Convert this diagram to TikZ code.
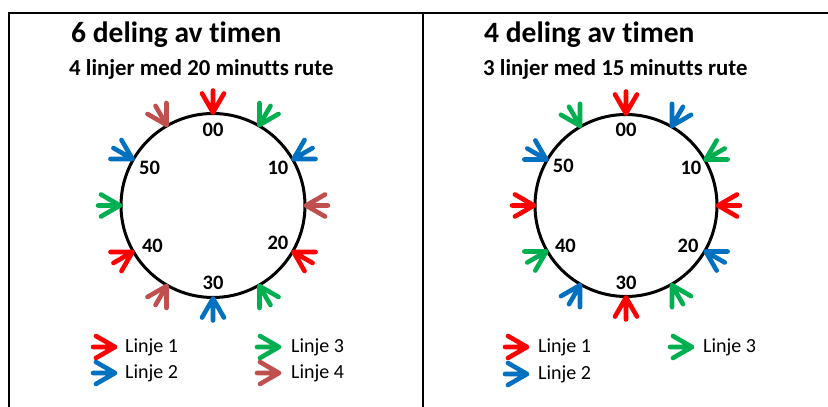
\documentclass[tikz,border=0pt]{standalone}
\usepackage{fontspec}
\setmainfont{Carlito}[Ligatures=NoCommon]
\definecolor{l1}{HTML}{FF0000}
\definecolor{l2}{HTML}{0070C0}
\definecolor{l3}{HTML}{00B050}
\definecolor{l4}{HTML}{C0504D}
\tikzset{
  pics/rutepil/.style={code={\draw[line width=4.6pt,line cap=round,line join=round,#1] (22,0) -- (0,0) (30:22) -- (0,0) -- (-30:22);}},
  ramme/.style={line width=2pt},
  ring/.style={line width=3pt},
  tittel/.style={anchor=west,inner sep=0pt,font=\fontsize{29.5}{31}\selectfont\bfseries},
  undertittel/.style={anchor=west,inner sep=0pt,font=\fontsize{22.8}{24}\selectfont\bfseries},
  tall/.style={inner sep=0pt,font=\fontsize{20.5}{22}\selectfont\bfseries},
  forklaring/.style={anchor=west,inner sep=0pt,font=\fontsize{20}{22}\selectfont},
}
\begin{document}
\begin{tikzpicture}[x=1pt,y=1pt]
\useasboundingbox (0,0) rectangle (828,407);
% frames
\draw[ramme] (9,0) -- (9,394) -- (828,394);
\draw[ramme] (423,0) -- (423,394);
% ---------- left panel ----------
\node[tittel] (t1) at (71,372) {6 deling av timen};
\node[undertittel] (s1) at (69,338) {4 linjer med 20 minutts rute};
\coordinate (cL) at (213,201.5);
\draw[ring] (cL) circle (92);
\foreach \k/\col in {0/l1,1/l3,2/l2,3/l4,4/l1,5/l3,6/l2,7/l4,8/l1,9/l3,10/l2,11/l4}{
  \pic[rotate={90-30*\k}] at ([shift={({90-30*\k}:93)}]cL) {rutepil=\col};
}
\node[tall] (a00) at ([shift={(90:76)}]cL) {00};
\node[tall] (a10) at ([shift={(30:75)}]cL) {10};
\node[tall] (a20) at ([shift={(-30:75)}]cL) {20};
\node[tall] (a30) at ([shift={(-90:77)}]cL) {30};
\node[tall] (a40) at ([shift={(-146:73)}]cL) {40};
\node[tall] (a50) at ([shift={(149:74)}]cL) {50};
% legend left
\pic[rotate=180] at (115,60) {rutepil=l1};
\pic[rotate=180] at (115,34) {rutepil=l2};
\pic[rotate=180] at (279,60) {rutepil=l3};
\pic[rotate=180] at (279,34) {rutepil=l4};
\node[forklaring] (f1) at (125,60) {Linje 1};
\node[forklaring] (f2) at (125,34) {Linje 2};
\node[forklaring] (f3) at (291,60) {Linje 3};
\node[forklaring] (f4) at (291,34) {Linje 4};
% ---------- right panel ----------
\node[tittel] (t2) at (484,372) {4 deling av timen};
\node[undertittel] (s2) at (483,338) {3 linjer med 15 minutts rute};
\coordinate (cR) at (626,201.5);
\draw[ring] (cR) circle (91);
\foreach \k/\col in {0/l1,1/l2,2/l3,3/l1,4/l2,5/l3,6/l1,7/l2,8/l3,9/l1,10/l2,11/l3}{
  \pic[rotate={90-30*\k}] at ([shift={({90-30*\k}:92)}]cR) {rutepil=\col};
}
\node[tall] (b00) at ([shift={(90:76)}]cR) {00};
\node[tall] (b10) at ([shift={(30:75)}]cR) {10};
\node[tall] (b20) at ([shift={(-33:74)}]cR) {20};
\node[tall] (b30) at ([shift={(-90:77)}]cR) {30};
\node[tall] (b40) at ([shift={(-146:73)}]cR) {40};
\node[tall] (b50) at ([shift={(148:74)}]cR) {50};
% legend right
\pic[rotate=180] at (527,60) {rutepil=l1};
\pic[rotate=180] at (527,33) {rutepil=l2};
\pic[rotate=180] at (692,60) {rutepil=l3};
\node[forklaring] (g1) at (538,60) {Linje 1};
\node[forklaring] (g2) at (538,33) {Linje 2};
\node[forklaring] (g3) at (703,60) {Linje 3};
\end{tikzpicture}
\end{document}
